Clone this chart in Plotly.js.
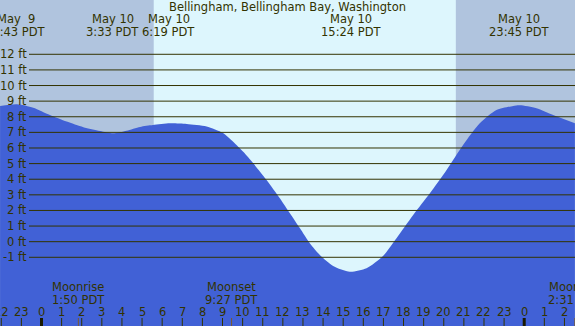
<!DOCTYPE html>
<html><head><meta charset="utf-8">
<script src="https://cdn.plot.ly/plotly-3.0.1.min.js"></script>
<style>html,body{margin:0;padding:0;background:#fff;}#chart{width:575px;height:326px;}</style>
</head><body><div id="chart"></div>
<script>
// Tide curve (hours relative to May 10 00:00 PDT, feet)
const hours = [-2.06, -1.22, -0.41, 0.42, 1.25, 2.08, 2.91, 3.57, 4.23, 4.90, 5.54, 6.39, 7.22, 8.21, 9.02, 9.53, 10.03, 10.53, 11.19, 11.85, 12.35, 12.85, 13.34, 13.84, 14.50, 15.33, 16.16, 16.99, 17.65, 18.48, 19.31, 20.14, 20.96, 21.79, 22.62, 23.45, 23.78, 24.61, 25.44, 26.52];
const heights = [8.69, 8.80, 8.58, 8.11, 7.69, 7.33, 7.09, 6.94, 7.11, 7.35, 7.47, 7.58, 7.54, 7.38, 6.96, 6.40, 5.76, 5.02, 3.95, 2.78, 1.82, 0.86, -0.10, -0.85, -1.55, -1.92, -1.70, -0.90, 0.22, 1.71, 3.10, 4.59, 6.19, 7.58, 8.43, 8.69, 8.73, 8.54, 8.11, 7.58];

// High / low tide events
const tideTimes = [-1.283, 3.55, 6.317, 15.4, 23.75];
const tideDates = ["May \u00a09", "May 10", "May 10", "May 10", "May 10"];
const tideLabels = ["22:43 PDT", "3:33 PDT", "6:19 PDT", "15:24 PDT", "23:45 PDT"];

// Moon events
const moonTimes = [1.833, 9.45, 26.517];
const moonNames = ["Moonrise", "Moonset", "Moonrise"];
const moonLabels = ["1:50 PDT", "9:27 PDT", "2:31 PDT"];

// Sun
const sunrise = 5.58;
const sunset = 20.6;

// Axis ticks
const hourTicks = [-2,-1,0,1,2,3,4,5,6,7,8,9,10,11,12,13,14,15,16,17,18,19,20,21,22,23,24,25,26];
const hourLabels = ["22","23","0","1","2","3","4","5","6","7","8","9","10","11","12","13","14","15","16","17","18","19","20","21","22","23","0","1","2"];
const midnightTicks = [0, 24];
const ftTicks = [12,11,10,9,8,7,6,5,4,3,2,1,0,-1];
const ftLabels = ["12 ft","11 ft","10 ft","9 ft","8 ft","7 ft","6 ft","5 ft","4 ft","3 ft","2 ft","1 ft","0 ft","-1 ft"];

const W = 575, H = 326;
const xRange = [-2.063, 26.525];
const yRange = [-5.40, 15.477];
const ink = '#333300';
const font = {family: 'DejaVu Sans, Verdana, sans-serif', size: 11.5, color: ink};
const py = p => 1 - p / H; // pixel row -> paper y

const traces = [
  {x: hours, y: hours.map(() => yRange[0] - 1), mode: 'lines', line: {width: 0}, hoverinfo: 'skip', showlegend: false},
  {x: hours, y: heights, mode: 'lines', line: {width: 0, shape: 'spline', smoothing: 0.7}, fill: 'tonexty', fillcolor: '#4161d6', hoverinfo: 'skip', showlegend: false}
];

const shapes = [];
// night shading
shapes.push({type: 'rect', xref: 'x', yref: 'paper', x0: xRange[0] - 1, x1: sunrise, y0: 0, y1: 1, fillcolor: '#b0c4de', line: {width: 0}, layer: 'below'});
shapes.push({type: 'rect', xref: 'x', yref: 'paper', x0: sunset, x1: xRange[1] + 1, y0: 0, y1: 1, fillcolor: '#b0c4de', line: {width: 0}, layer: 'below'});
// gridlines above the water
ftTicks.forEach(v => shapes.push({type: 'line', xref: 'paper', yref: 'y', x0: 29 / W, x1: 1, y0: v, y1: v, line: {color: ink, width: 1}, layer: 'above'}));
// hour ticks
hourTicks.forEach(h => shapes.push({type: 'line', xref: 'x', yref: 'paper', x0: h, x1: h, y0: 0, y1: 8 / H, line: {color: ink, width: 1}, layer: 'above'}));
midnightTicks.forEach(h => shapes.push({type: 'line', xref: 'x', yref: 'paper', x0: h, x1: h, y0: 0, y1: 8 / H, line: {color: '#1a1a00', width: 3}, layer: 'above'}));
moonTimes.forEach(h => shapes.push({type: 'line', xref: 'x', yref: 'paper', x0: h, x1: h, y0: 0, y1: 8 / H, line: {color: '#7a5a30', width: 1}, layer: 'above'}));

const ann = [];
const base = {showarrow: false, font: font, borderpad: 0, borderwidth: 0};
ann.push(Object.assign({xref: 'paper', yref: 'paper', x: 0.5, y: py(7.5), yanchor: 'middle', xanchor: 'center', text: 'Bellingham, Bellingham Bay, Washington'}, base));
tideTimes.forEach((t, i) => {
  ann.push(Object.assign({xref: 'x', yref: 'paper', x: t, y: py(19.3), xanchor: 'center', yanchor: 'middle', text: tideDates[i]}, base));
  ann.push(Object.assign({xref: 'x', yref: 'paper', x: t, y: py(31.5), xanchor: 'center', yanchor: 'middle', text: tideLabels[i]}, base));
});
moonTimes.forEach((t, i) => {
  ann.push(Object.assign({xref: 'x', yref: 'paper', x: t, y: py(287), xanchor: 'center', yanchor: 'middle', text: moonNames[i]}, base));
  ann.push(Object.assign({xref: 'x', yref: 'paper', x: t, y: py(299.5), xanchor: 'center', yanchor: 'middle', text: moonLabels[i]}, base));
});
ftTicks.forEach((v, i) => ann.push(Object.assign({xref: 'paper', yref: 'y', x: 27 / W, y: v, xanchor: 'right', yanchor: 'middle', text: ftLabels[i]}, base)));
hourTicks.forEach((h, i) => ann.push(Object.assign({xref: 'x', yref: 'paper', x: h, y: py(312), xanchor: 'center', yanchor: 'middle', text: hourLabels[i]}, base)));

const layout = {
  width: W, height: H,
  margin: {l: 0, r: 0, t: 0, b: 0, pad: 0},
  paper_bgcolor: '#ddf6fd', plot_bgcolor: '#ddf6fd',
  showlegend: false,
  xaxis: {range: xRange, showgrid: false, zeroline: false, showticklabels: false, ticks: '', showline: false, fixedrange: true},
  yaxis: {range: yRange, showgrid: false, zeroline: false, showticklabels: false, ticks: '', showline: false, fixedrange: true},
  shapes: shapes,
  annotations: ann
};
Plotly.newPlot('chart', traces, layout, {staticPlot: true, displayModeBar: false});
</script></body></html>
